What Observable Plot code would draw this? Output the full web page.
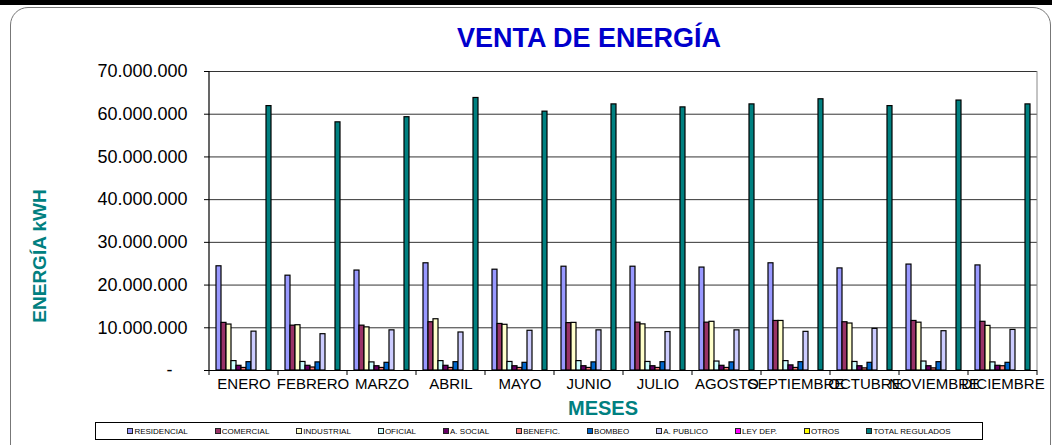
<!DOCTYPE html>
<html><head><meta charset="utf-8">
<script src="https://cdn.jsdelivr.net/npm/d3@7"></script>
<script src="https://cdn.jsdelivr.net/npm/@observablehq/plot@0.6"></script>
<style>
body{margin:0;background:#fff;font-family:Arial,"Liberation Sans",sans-serif;}
#wrap{position:relative;width:1052px;height:445px;overflow:hidden;background:#fff}
#topband{position:absolute;left:0;top:0;width:1052px;height:5px;background:#000}
#frame{position:absolute;left:10px;top:7px;width:1041px;height:470px;border:1px solid #777;border-radius:18px;box-sizing:border-box}
#title{position:absolute;top:38px;left:589px;transform:translate(-50%,-50%);white-space:nowrap;font-weight:bold;font-size:27px;color:#0000CC}
#ylab{position:absolute;left:40px;top:256px;transform:translate(-50%,-50%) rotate(-90deg);white-space:nowrap;font-weight:bold;font-size:19px;color:#008080}
#xlab{position:absolute;left:603px;top:408px;transform:translate(-50%,-50%);white-space:nowrap;font-weight:bold;font-size:20px;color:#008080}
#legend{position:absolute;left:95px;top:422px;width:888px;height:18px;border:1px solid #000;box-sizing:border-box;display:flex;justify-content:center;align-items:center;gap:27px;font-size:8px;color:#000}
#legend span.it{display:flex;align-items:center}
#legend span.sw{display:inline-block;width:4px;height:4px;border:1px solid #222;margin-right:1px}
#chart{position:absolute;left:0;top:0}
</style>
</head><body>
<div id="wrap">
  <div id="topband"></div>
  <div id="frame"></div>
  <div id="chart"></div>
  <div id="title">VENTA DE ENERGÍA</div>
  <div id="ylab">ENERGÍA kWH</div>
  <div id="xlab">MESES</div>
  <div id="legend"></div>
</div>
<script>
const months = ["ENERO","FEBRERO","MARZO","ABRIL","MAYO","JUNIO","JULIO","AGOSTO","SEPTIEMBRE","OCTUBRE","NOVIEMBRE","DICIEMBRE"];
const seriesNames = ["RESIDENCIAL","COMERCIAL","INDUSTRIAL","OFICIAL","A. SOCIAL","BENEFIC.","BOMBEO","A. PUBLICO","LEY DEP.","OTROS","TOTAL REGULADOS"];
const seriesColors = ["#9999FF","#993366","#FFFFCC","#CCFFFF","#660066","#FF8080","#0066CC","#CCCCFF","#FF00FF","#FFFF00","#008080"];

const residencial = [24400000,22200000,23400000,25100000,23600000,24300000,24300000,24100000,25100000,23900000,24800000,24600000];
const comercial   = [11150000,10500000,10500000,11300000,10900000,11100000,11200000,11200000,11600000,11300000,11600000,11400000];
const industrial  = [10760000,10600000,10100000,12000000,10700000,11150000,10800000,11400000,11600000,11000000,11200000,10450000];
const oficial     = [2200000,2000000,1900000,2200000,2000000,2200000,2000000,2100000,2200000,2000000,2100000,1900000];
const aSocial     = [1100000,1100000,1000000,1100000,1000000,1000000,1000000,1100000,1200000,1000000,1000000,1100000];
const benefic     = [600000,700000,600000,600000,600000,600000,600000,600000,600000,500000,500000,1000000];
const bombeo      = [1950000,1900000,1800000,1950000,1800000,1900000,1950000,1900000,1950000,1800000,1950000,1800000];
const aPublico    = [9100000,8500000,9400000,8900000,9300000,9400000,9000000,9400000,9050000,9750000,9200000,9500000];
const leyDep      = [0,0,0,0,0,0,0,0,0,0,0,0];
const otros       = [0,0,0,0,0,0,0,0,0,0,0,0];
const total       = [61900000,58100000,59300000,63800000,60600000,62300000,61600000,62300000,63500000,61900000,63200000,62300000];

const yTicks = [0,10000000,20000000,30000000,40000000,50000000,60000000,70000000];
const yTickLabels = ["-\u00a0\u00a0\u00a0","10.000.000","20.000.000","30.000.000","40.000.000","50.000.000","60.000.000","70.000.000"];

const seriesValues = [residencial,comercial,industrial,oficial,aSocial,benefic,bombeo,aPublico,leyDep,otros,total];
const data = [];
months.forEach((m,i)=>seriesNames.forEach((s,j)=>data.push({month:m, series:s, value:seriesValues[j][i]})));

const W = 1052;
const chart = Plot.plot({
  width: W, height: 395,
  marginLeft: 207, marginRight: 13, marginTop: 71, marginBottom: 25,
  style: {fontFamily: "Arial, 'Liberation Sans', sans-serif", background: "transparent", overflow: "visible"},
  fx: {domain: months, padding: 0, label: null, axis: null},
  x: {domain: seriesNames, paddingInner: 0, paddingOuter: 0.9, axis: null},
  y: {domain: [0, 70000000], axis: null},
  color: {domain: seriesNames, range: seriesColors},
  marks: [
    Plot.ruleY(yTicks.slice(1), {stroke: "#333", strokeWidth: 1}),
    Plot.barY(data, {fx: "month", x: "series", y: "value", fill: "series", stroke: "#000", strokeWidth: 1.2}),
    Plot.ruleY([0], {stroke: "#000", strokeWidth: 1.2}),
    Plot.axisY({ticks: yTicks, tickFormat: d => yTickLabels[yTicks.indexOf(d)], tickSize: 5, tickPadding: 17, fontSize: 18, label: null, stroke: "#000"}),
    Plot.axisFx({anchor: "bottom", tickSize: 0, tickPadding: 8, fontSize: 15, label: null})
  ]
});
document.getElementById("chart").appendChild(chart);

// axis lines and category boundary ticks, placed with Plot's own scales
const fxS = chart.scale("fx"), yS = chart.scale("y");
const svg = d3.select(chart);
const y0 = yS.apply(0), yTop = yS.apply(70000000);
const g = svg.append("g");
const edges = months.map(m => fxS.apply(m)).concat([fxS.apply(months[months.length-1]) + fxS.bandwidth]);
g.selectAll("line.t").data(edges).join("line").attr("x1", d => d).attr("x2", d => d).attr("y1", y0).attr("y2", y0 + 5).attr("stroke", "#000");
g.append("line").attr("x1", edges[0]).attr("x2", edges[0]).attr("y1", yTop).attr("y2", y0).attr("stroke", "#000").attr("stroke-width", 1.2);
g.append("line").attr("x1", edges[edges.length-1]).attr("x2", edges[edges.length-1]).attr("y1", yTop).attr("y2", y0).attr("stroke", "#888");

// legend
const leg = d3.select("#legend");
seriesNames.forEach((s,i) => {
  const it = leg.append("span").attr("class", "it");
  it.append("span").attr("class", "sw").style("background", seriesColors[i]);
  it.append("span").text(s);
});
</script>
</body></html>
